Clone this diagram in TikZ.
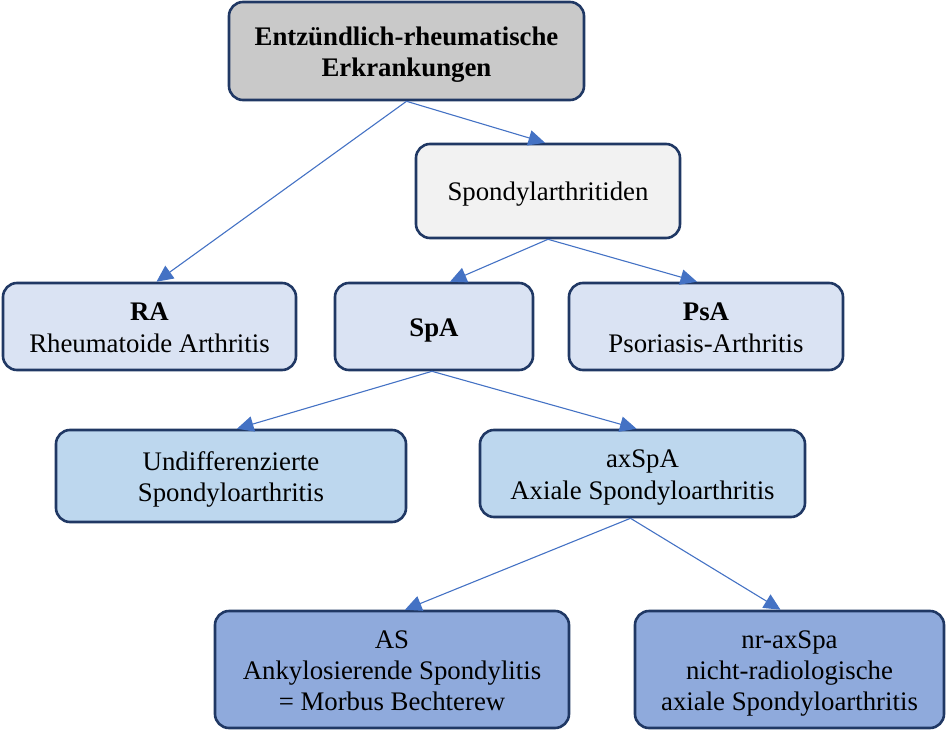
\documentclass[tikz,border=0pt]{standalone}
\usepackage{fontspec}
\setmainfont{Liberation Serif}
\usetikzlibrary{arrows.meta}
\definecolor{bordc}{HTML}{203864}
\definecolor{arrc}{HTML}{4472C4}
\definecolor{fgray}{HTML}{C9C9C9}
\definecolor{flight}{HTML}{F2F2F2}
\definecolor{frow2}{HTML}{DAE3F3}
\definecolor{frow3}{HTML}{BDD7EE}
\definecolor{frow4}{HTML}{8FAADC}
\newcommand{\boxfont}{\fontsize{26.8}{31.3}\selectfont\setbox\strutbox\hbox{\vrule height 25.5pt depth 5.8pt width 0pt}}
\newcommand{\ml}[1]{\begin{tabular}{@{}c@{}}#1\end{tabular}}
\tikzset{
  box/.style={draw=bordc, line width=2.6pt, rounded corners=14pt,
    inner sep=0pt, font=\boxfont},
  conn/.style={draw=arrc, line width=1.1pt, -{Triangle[length=16.5pt,width=15.5pt]}}
}
\begin{document}
\begin{tikzpicture}[x=1pt,y=-1pt]
\useasboundingbox (0,0) rectangle (946,731);
\node[box, fill=fgray, minimum width=355pt, minimum height=98pt] (top) at (406.5,51) {\ml{\textbf{Entzündlich-rheumatische}\\\textbf{Erkrankungen}}};
\node[box, fill=flight, minimum width=264pt, minimum height=94pt] (sp) at (548,191) {\ml{Spondylarthritiden}};
\node[box, fill=frow2, minimum width=293pt, minimum height=87pt] (ra) at (149.5,326.5) {\ml{\textbf{RA}\\Rheumatoide Arthritis}};
\node[box, fill=frow2, minimum width=198pt, minimum height=87pt] (spa) at (434,326.5) {\ml{\textbf{SpA}}};
\node[box, fill=frow2, minimum width=274pt, minimum height=87pt] (psa) at (706,326.5) {\ml{\textbf{PsA}\\Psoriasis-Arthritis}};
\node[box, fill=frow3, minimum width=350pt, minimum height=92pt] (und) at (231,476) {\ml{Undifferenzierte\\Spondyloarthritis}};
\node[box, fill=frow3, minimum width=325pt, minimum height=87pt] (ax) at (642.5,473.5) {\ml{axSpA\\Axiale Spondyloarthritis}};
\node[box, fill=frow4, minimum width=354pt, minimum height=117pt] (as) at (392,669.5) {\ml{AS\\Ankylosierende Spondylitis\\= Morbus Bechterew}};
\node[box, fill=frow4, minimum width=309pt, minimum height=117pt] (nr) at (789.5,669.5) {\ml{nr-axSpa\\nicht-radiologische\\axiale Spondyloarthritis}};
\draw[conn] (top.south) -- ([xshift=7pt]ra.north);
\draw[conn] (top.south) -- ([xshift=-3pt]sp.north);
\draw[conn] (sp.south) -- ([xshift=16pt]spa.north);
\draw[conn] (sp.south) -- ([xshift=-9pt]psa.north);
\draw[conn] ([xshift=-2pt]spa.south) -- ([xshift=6pt]und.north);
\draw[conn] ([xshift=-2pt]spa.south) -- ([xshift=-6pt]ax.north);
\draw[conn] ([xshift=-12pt]ax.south) -- ([xshift=13pt]as.north);
\draw[conn] ([xshift=-12pt]ax.south) -- ([xshift=-9pt]nr.north);
\end{tikzpicture}
\end{document}
